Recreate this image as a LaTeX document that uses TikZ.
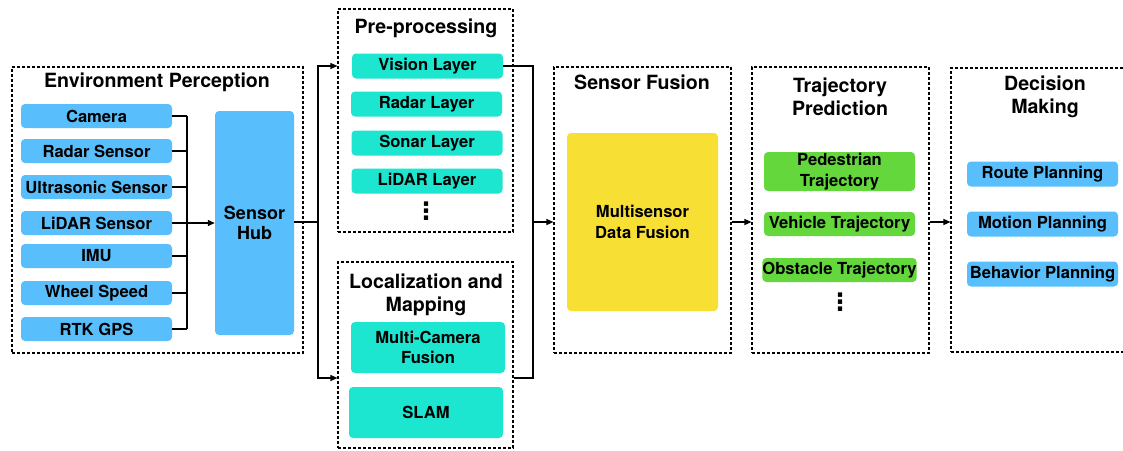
\documentclass[tikz,border=0pt]{standalone}
\usepackage{fontspec}
\setmainfont{TeX Gyre Heros}
\newfontfamily\dejavu{DejaVu Sans}
\usetikzlibrary{arrows.meta}
\definecolor{cblue}{RGB}{88,191,252}
\definecolor{cteal}{RGB}{28,230,208}
\definecolor{cyellow}{RGB}{247,223,52}
\definecolor{cgreen}{RGB}{99,215,60}
\tikzset{
  grp/.style={draw=black, line width=1.1pt, dash pattern=on 3pt off 2pt, inner sep=0pt},
  item/.style={rounded corners=4pt, inner sep=0pt, align=center, font=\fontsize{16.6}{20.5}\selectfont\bfseries, text=black},
  bluebox/.style={item, fill=cblue},
  tealbox/.style={item, fill=cteal},
  greenbox/.style={item, fill=cgreen},
  yellowbox/.style={item, fill=cyellow},
  ttl/.style={font=\fontsize{19.6}{22.5}\selectfont\bfseries, align=center, inner sep=0pt},
  conn/.style={line width=1.3pt},
  arr/.style={conn, -{Triangle[length=7pt,width=6pt]}},
  dotsnode/.style={font=\dejavu\bfseries\fontsize{24}{24}\selectfont, inner sep=0pt}
}
\begin{document}
\begin{tikzpicture}[x=1pt,y=-1pt]
\useasboundingbox (0,0) rectangle (1123,450);
\clip (0,0) rectangle (1123,450);
\fill[white] (0,0) rectangle (1123,450);
% Environment perception
\node[grp, minimum width=291pt, minimum height=286pt] (env) at (157.5,210) {};
\node[ttl] (envt) at (157,82) {Environment Perception};
\foreach \n/\t/\y in {cam/Camera/116, rad/Radar Sensor/151, ult/Ultrasonic Sensor/187, lid/LiDAR Sensor/223, imu/IMU/256, whl/Wheel Speed/293, rtk/RTK GPS/329}{
  \node[bluebox, minimum width=151pt, minimum height=24pt] (\n) at (96.5,\y) {\t};
}
\node[bluebox, minimum width=79pt, minimum height=224pt, font=\fontsize{18}{20.5}\selectfont\bfseries] (hub) at (254.5,223) {Sensor\\Hub};
\coordinate (busx) at (187,0);
\foreach \n in {cam,rad,ult,lid,imu,whl,rtk}{
  \draw[conn] (\n.east) -- (\n.east -| busx);
}
\draw[conn] (cam.east -| busx) -- (rtk.east -| busx);
\draw[arr] (lid.east -| busx) -- (lid.east -| hub.west);
% Pre-processing
\node[grp, minimum width=175pt, minimum height=223pt] (pre) at (425.5,120.5) {};
\node[ttl] (pret) at (426,28) {Pre-processing};
\node[tealbox, minimum width=151pt, minimum height=25pt] (vis) at (427.5,66) {Vision Layer};
\node[tealbox, minimum width=151pt, minimum height=25pt] (radl) at (426.5,104) {Radar Layer};
\node[tealbox, minimum width=151pt, minimum height=25pt] (son) at (427,143) {Sonar Layer};
\node[tealbox, minimum width=151pt, minimum height=25pt] (lidl) at (427,181) {LiDAR Layer};
\node[dotsnode] (pred) at (426,211) {⋮};
% Localization
\node[grp, minimum width=175pt, minimum height=186pt] (loc) at (425.5,355) {};
\node[ttl] (loct) at (426,295) {Localization and\\Mapping};
\node[tealbox, minimum width=154pt, minimum height=51pt] (mcf) at (428,347.5) {Multi-Camera\\Fusion};
\node[tealbox, minimum width=154pt, minimum height=51pt] (slam) at (426,412.5) {SLAM};
% connectors hub -> pre/loc
\coordinate (split) at (318,222);
\coordinate (locin) at (0,378);
\draw[conn] (hub.east |- split) -- (split);
\draw[arr] (split) |- (pre.west |- vis);
\draw[arr] (split) |- (loc.west |- locin);
% Sensor fusion
\node[grp, minimum width=177pt, minimum height=286pt] (fus) at (642.5,210) {};
\node[ttl] (fust) at (642,82) {Sensor Fusion};
\node[yellowbox, minimum width=151pt, minimum height=178pt] (mdf) at (642.5,222) {Multisensor\\Data Fusion};
\coordinate (merge) at (533,222);
\draw[conn] (vis.east) -| (merge);
\draw[conn] (loc.east |- locin) -| (merge);
\draw[arr] (merge) -- (fus.west |- merge);
% Trajectory prediction
\node[grp, minimum width=177pt, minimum height=286pt] (trj) at (840.5,210) {};
\node[ttl] (trjt) at (840,97) {Trajectory\\Prediction};
\node[greenbox, minimum width=151pt, minimum height=39pt] (ped) at (839.5,171.5) {Pedestrian\\Trajectory};
\node[greenbox, minimum width=151pt, minimum height=24pt] (veh) at (839.5,224) {Vehicle Trajectory};
\node[greenbox, minimum width=151pt, minimum height=24pt] (obs) at (839.5,270) {Obstacle Trajectory};
\node[dotsnode] (trjd) at (840,302) {⋮};
\draw[arr] (fus.east |- merge) -- (trj.west |- merge);
% Decision making
\node[grp, minimum width=179pt, minimum height=284pt] (dec) at (1040.5,210) {};
\node[ttl] (dect) at (1045,97) {Decision\\Making};
\node[bluebox, minimum width=151pt, minimum height=25pt] (route) at (1042.5,174) {Route Planning};
\node[bluebox, minimum width=151pt, minimum height=25pt] (mot) at (1042.5,224) {Motion Planning};
\node[bluebox, minimum width=151pt, minimum height=25pt] (beh) at (1042.5,274) {Behavior Planning};
\draw[arr] (trj.east |- merge) -- (dec.west |- merge);
\end{tikzpicture}
\end{document}
